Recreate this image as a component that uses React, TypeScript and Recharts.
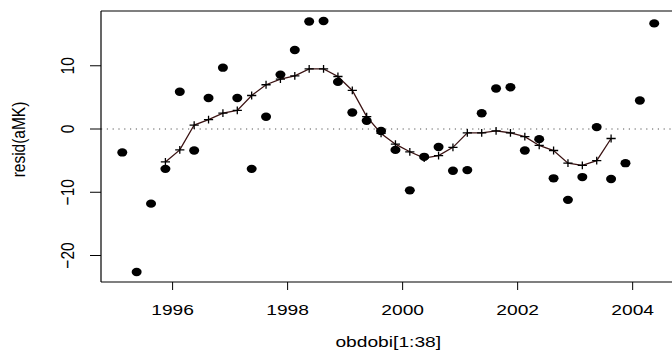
import React from "react";
import {
  ComposedChart,
  Scatter,
  Line,
  XAxis,
  YAxis,
  ReferenceLine,
  Label,
} from "recharts";

// Quarterly periods (obdobi[1:38])
const periods = [
  1995.125, 1995.375, 1995.625, 1995.875, 1996.125, 1996.375, 1996.625, 1996.875,
  1997.125, 1997.375, 1997.625, 1997.875, 1998.125, 1998.375, 1998.625, 1998.875,
  1999.125, 1999.375, 1999.625, 1999.875, 2000.125, 2000.375, 2000.625, 2000.875,
  2001.125, 2001.375, 2001.625, 2001.875, 2002.125, 2002.375, 2002.625, 2002.875,
  2003.125, 2003.375, 2003.625, 2003.875, 2004.125, 2004.375,
];

// resid(aMK)
const residuals = [
  -3.7, -22.6, -11.8, -6.3, 5.9, -3.4, 4.9, 9.7, 4.9, -6.3, 1.95, 8.6, 12.5, 17.0,
  17.07, 7.45, 2.6, 1.3, -0.3, -3.3, -9.7, -4.4, -2.85, -6.6, -6.5, 2.5, 6.4, 6.6,
  -3.4, -1.6, -7.8, -11.2, -7.6, 0.3, -7.9, -5.4, 4.5, 16.7,
];

// centred moving average (defined for periods 4..35)
const smoothed = [
  null, null, null,
  -5.2, -3.3, 0.63, 1.5, 2.5, 2.95, 5.3, 7.0, 7.9, 8.4, 9.5, 9.5, 8.3, 6.1, 1.95,
  -0.7, -2.4, -3.6, -4.6, -4.2, -2.9, -0.6, -0.6, -0.3, -0.6, -1.2, -2.6, -3.4,
  -5.4, -5.75, -5.0, -1.5,
  null, null, null,
];

const xTicks = [1996, 1998, 2000, 2002, 2004];
const yTicks = [-20, -10, 0, 10];

const X_DOMAIN: [number, number] = [1994.755, 2004.745];
const Y_DOMAIN: [number, number] = [-24.19, 18.66];

const rows = periods.map((t, i) => ({
  t,
  resid: residuals[i],
  ma: smoothed[i],
}));

const FONT = "'Liberation Sans', Arial, Helvetica, sans-serif";
const FS = 15.5;
const SX = 1.24;

const XTick = (props: any) => {
  const { x, y, payload } = props;
  return (
    <text
      transform={`translate(${x},${y + 25}) scale(${SX},1)`}
      textAnchor="middle"
      fontFamily={FONT}
      fontSize={FS}
      fill="#000"
    >
      {payload.value}
    </text>
  );
};

const YTick = (props: any) => {
  const { x, y, payload } = props;
  const v = payload.value;
  const txt = v < 0 ? "\u2212" + Math.abs(v) : String(v);
  return (
    <text
      transform={`translate(${x - 16},${y}) scale(${SX},1) rotate(-90)`}
      textAnchor="middle"
      fontFamily={FONT}
      fontSize={FS}
      fill="#000"
    >
      {txt}
    </text>
  );
};

const Dot = (props: any) => {
  const { cx, cy } = props;
  if (cx == null || cy == null) return <g />;
  return <ellipse cx={cx} cy={cy} rx={5} ry={4.2} fill="#000" />;
};

const Plus = (props: any) => {
  const { cx, cy, index } = props;
  if (cx == null || cy == null || props.value == null) return <g key={index} />;
  return (
    <g key={index}>
      <line x1={cx - 4.6} x2={cx + 4.6} y1={cy} y2={cy} stroke="#000" strokeWidth={1.3} />
      <line x1={cx} x2={cx} y1={cy - 3.9} y2={cy + 3.9} stroke="#000" strokeWidth={1.3} />
    </g>
  );
};

export default function App() {
  return (
    <div
      style={{
        position: "absolute",
        left: 0,
        top: 0,
        width: 672,
        height: 352,
        overflow: "hidden",
        background: "#fff",
      }}
    >
      <ComposedChart
        width={700}
        height={352}
        data={rows}
        margin={{ top: 11, right: 24.5, bottom: 0, left: 0 }}
      >
        <XAxis
          dataKey="t"
          type="number"
          domain={X_DOMAIN}
          ticks={xTicks}
          allowDataOverflow
          height={70}
          tickSize={8}
          tickMargin={0}
          tick={<XTick />}
          stroke="#000"
          axisLine={{ stroke: "#000", strokeWidth: 1.2 }}
          tickLine={{ stroke: "#000", strokeWidth: 1 }}
        >
          <Label
            content={(p: any) => {
              const vb = p.viewBox;
              return (
                <text
                  transform={`translate(${vb.x + vb.width / 2},346.5) scale(${SX},1)`}
                  textAnchor="middle"
                  fontFamily={FONT}
                  fontSize={FS}
                  fill="#000"
                >
                  obdobi[1:38]
                </text>
              );
            }}
          />
        </XAxis>
        <YAxis
          type="number"
          domain={Y_DOMAIN}
          ticks={yTicks}
          allowDataOverflow
          width={101}
          tickSize={11}
          tickMargin={0}
          tick={<YTick />}
          axisLine={{ stroke: "#000", strokeWidth: 1.2 }}
          tickLine={{ stroke: "#000", strokeWidth: 1 }}
        >
          <Label
            content={(p: any) => {
              const vb = p.viewBox;
              return (
                <text
                  transform={`translate(25,${vb.y + vb.height / 2 - 7}) scale(${SX},1) rotate(-90)`}
                  textAnchor="middle"
                  fontFamily={FONT}
                  fontSize={FS}
                  fill="#000"
                >
                  resid(aMK)
                </text>
              );
            }}
          />
        </YAxis>
        <ReferenceLine y={Y_DOMAIN[1]} stroke="#000" strokeWidth={1.2} />
        <ReferenceLine y={0} stroke="#555" strokeWidth={1} strokeDasharray="1.2 4.6" />
        <Line
          dataKey="ma"
          stroke="#3c1414"
          strokeWidth={1.3}
          dot={<Plus />}
          activeDot={false}
          isAnimationActive={false}
          connectNulls={false}
        />
        <Scatter dataKey="resid" shape={<Dot />} isAnimationActive={false} />
      </ComposedChart>
    </div>
  );
}
